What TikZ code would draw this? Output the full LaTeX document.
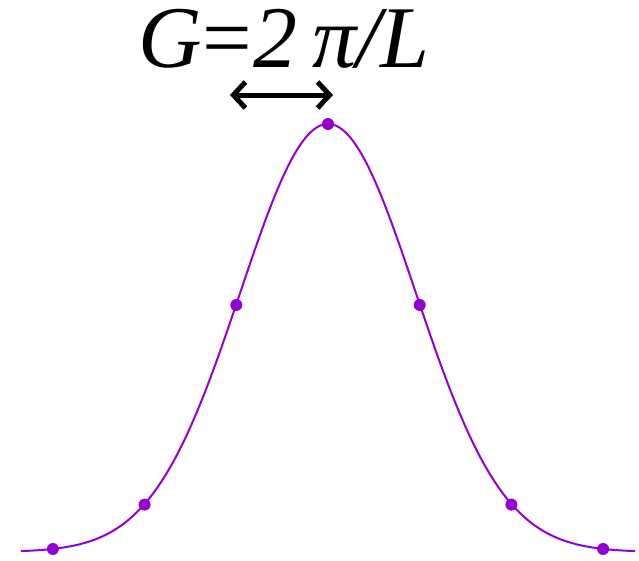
\documentclass[tikz,border=0pt]{standalone}
\usepackage{fontspec}
\setmainfont{Liberation Serif}
\usetikzlibrary{arrows.meta}
\definecolor{curvecol}{HTML}{9400D3}
\tikzset{
  sample/.style={circle,fill=curvecol,inner sep=0pt,minimum size=12pt},
  gausscurve/.style={draw=curvecol,line width=2pt},
  spacing/.style={line width=5pt,{Straight Barb[length=12pt,width=26pt,line width=5pt]}-{Straight Barb[length=12pt,width=26pt,line width=5pt]}}
}
\begin{document}
\begin{tikzpicture}[x=1pt,y=-1pt]
\useasboundingbox (0,0) rectangle (639,560);
\draw[gausscurve] plot[domain=21:635,samples=200,smooth] (\x,{552-428*exp(-0.5*((\x-328)/87.7)^2)});
\node[sample] (p0) at (328,124) {};
\node[sample] (pl1) at (236.3,305) {};
\node[sample] (pr1) at (419.7,305) {};
\node[sample] (pl2) at (144.6,504.6) {};
\node[sample] (pr2) at (511.4,504.6) {};
\node[sample] (pl3) at (52.9,549) {};
\node[sample] (pr3) at (603.1,549) {};
\node[anchor=base,inner sep=0pt,font=\fontsize{88}{88}\selectfont] (lbl) at (284,67) {\itshape G\upshape\kern1pt=\kern1pt\itshape 2\,π/L};
\coordinate (al) at (230,95);
\coordinate (ar) at (333,95);
\draw[spacing] (al) -- (ar);
\end{tikzpicture}
\end{document}
